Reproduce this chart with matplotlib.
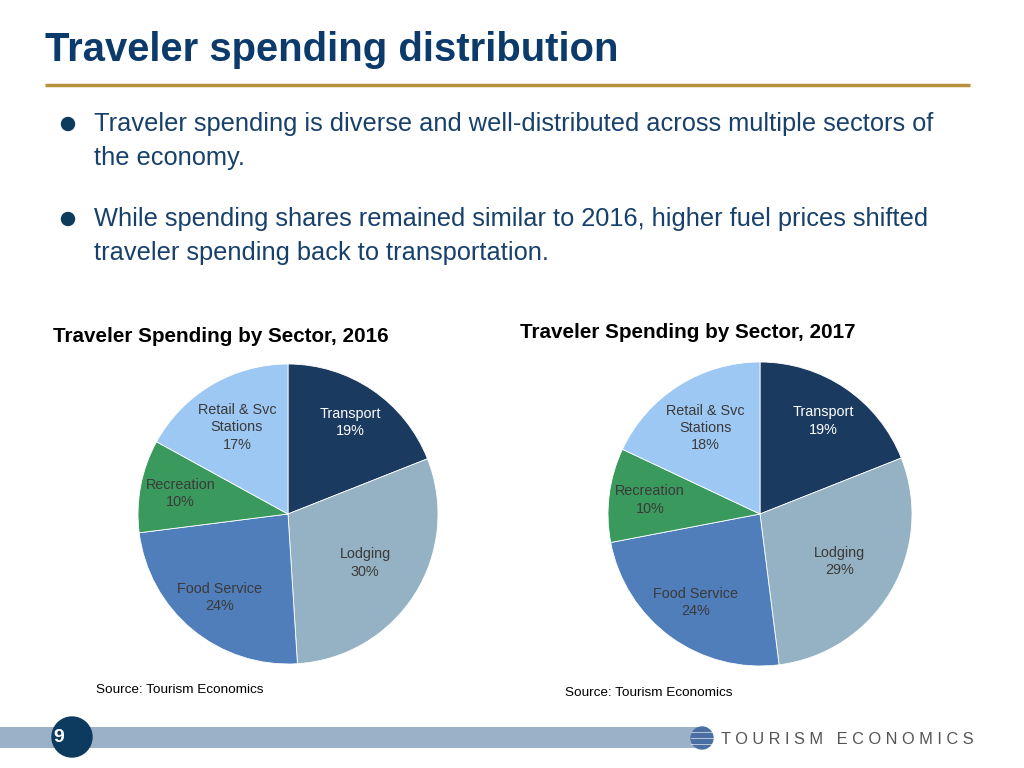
import matplotlib.pyplot as plt
from matplotlib.patches import Circle, Rectangle
import numpy as np

plt.rcParams['font.family'] = ['Liberation Sans', 'DejaVu Sans']

sectors = ["Transport", "Lodging", "Food Service", "Recreation", "Retail & Svc\nStations"]
share_2016 = [19, 30, 24, 10, 17]
share_2017 = [19, 29, 24, 10, 18]
colors = ["#1A3A60", "#94B2C3", "#4F7EBB", "#3A9A5E", "#9DC8F3"]
label_colors = ["white", "#3A3A3A", "#3A3A3A", "#3A3A3A", "#3A3A3A"]
label_dist = [0.74, 0.61, 0.72, 0.73, 0.67]

title = "Traveler spending distribution"
bullets = [
    ["Traveler spending is diverse and well-distributed across multiple sectors of",
     "the economy."],
    ["While spending shares remained similar to 2016, higher fuel prices shifted",
     "traveler spending back to transportation."],
]
logo = "T O U R I S M   E C O N O M I C S"

W, H = 1024, 768
fig = plt.figure(figsize=(10.24, 7.68), dpi=100)

# overlay in pixel coordinates for slide decoration
bg = fig.add_axes([0, 0, 1, 1])
bg.set_xlim(0, W)
bg.set_ylim(H, 0)
bg.axis("off")

bg.text(45, 50, title, fontsize=28.8, fontweight="bold", color="#0B3A6B", va="center", ha="left")
bg.plot([45, 970], [85, 85], color="#B8913A", lw=2.5, solid_capstyle="butt")

for y, lines in zip([124, 219], bullets):
    bg.add_patch(Circle((68, y), 6.5, color="#0E3A5C"))
    for j, line in enumerate(lines):
        bg.text(94, y + 34 * j, line, fontsize=18.3, color="#17406B", va="center", ha="left")

bg.text(53, 336, "Traveler Spending by Sector, 2016", fontsize=14.9, fontweight="bold", va="center")
bg.text(520, 332, "Traveler Spending by Sector, 2017", fontsize=14.9, fontweight="bold", va="center")
bg.text(96, 690, "Source: Tourism Economics", fontsize=9.7, va="center")
bg.text(565, 693, "Source: Tourism Economics", fontsize=9.7, va="center")

# footer
bg.add_patch(Rectangle((0, 727), 700, 21, color="#9AB1C7", lw=0))
bg.add_patch(Circle((72, 737), 20, color="#0D3A5F"))
bg.text(59, 738, "9", fontsize=14, fontweight="bold", color="white", va="center", ha="center")
bg.add_patch(Circle((702, 738), 11, color="#4B6FA3"))
for k in (-6, 0, 6):
    bg.plot([691, 713], [738 + k, 738 + k], color="white", lw=0.6, alpha=0.7)
bg.text(721, 739, logo, fontsize=11.8, color="#555555", va="center", ha="left")


def draw_pie(cx, cy, r, values):
    ax = fig.add_axes([(cx - r) / W, (H - cy - r) / H, 2 * r / W, 2 * r / H])
    wedges, _ = ax.pie(values, colors=colors, startangle=90, counterclock=False,
                       wedgeprops=dict(edgecolor="white", linewidth=0.6))
    for w, name, v, d, c in zip(wedges, sectors, values, label_dist, label_colors):
        ang = np.deg2rad((w.theta1 + w.theta2) / 2)
        ax.text(d * np.cos(ang), d * np.sin(ang), f"{name}\n{v}%", ha="center", va="center",
                fontsize=10.4, color=c, linespacing=1.3)
    ax.set_xlim(-1, 1)
    ax.set_ylim(-1, 1)
    ax.set_aspect("equal")


draw_pie(288, 514, 150, share_2016)
draw_pie(760, 514, 152, share_2017)

fig.savefig("out.png", dpi=100)
